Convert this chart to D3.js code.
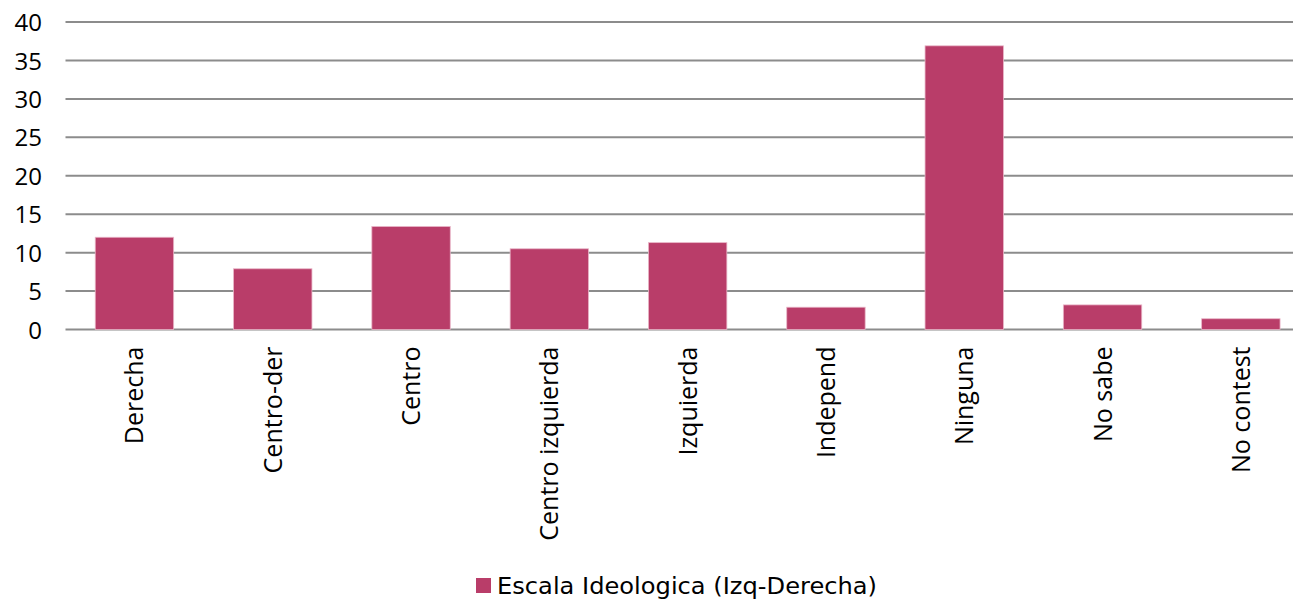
<!DOCTYPE html>
<html><head><meta charset="utf-8">
<script src="https://cdn.jsdelivr.net/npm/d3@7"></script>
<style>body{margin:0;background:#fff;overflow:hidden}svg{display:block}</style>
</head><body>
<svg id="c" width="1293" height="599"></svg>
<script>
const categories = ["Derecha","Centro-der","Centro","Centro izquierda","Izquierda","Independ","Ninguna","No sabe","No contest"];
const values = [12.0, 7.9, 13.4, 10.5, 11.3, 2.9, 36.9, 3.2, 1.4];
const yTicks = [0,5,10,15,20,25,30,35,40];
const seriesName = "Escala Ideologica (Izq-Derecha)";

const svg = d3.select("#c");
const x = d3.scaleBand().domain(categories).range([65.3, 1310]).paddingInner(0.433).paddingOuter(0.2165);
const y = d3.scaleLinear().domain([0,40]).range([329.5, 22]);
const font = "'Open Sans', sans-serif";

// gridlines
svg.append("g").selectAll("line").data(yTicks).join("line")
  .attr("x1", 65.5).attr("x2", 1310)
  .attr("y1", d => y(d)).attr("y2", d => y(d))
  .attr("stroke", "#8c8c8c").attr("stroke-width", 2);

// y axis labels
const yAxis = d3.axisLeft(y).tickValues(yTicks).tickSize(0).tickPadding(0);
const ya = svg.append("g").attr("transform","translate(42,0)").call(yAxis);
ya.select(".domain").remove();
ya.selectAll("text").attr("font-family", font).attr("font-size", 24).attr("fill","#000").attr("dy","0.36em");

// bars
svg.append("g").selectAll("rect").data(categories).join("rect")
  .attr("x", d => x(d)).attr("width", x.bandwidth())
  .attr("y", (d,i) => y(values[i])).attr("height", (d,i) => y(0) - y(values[i]))
  .attr("fill", "#b93d69").attr("stroke","#e9b6c8").attr("stroke-width",0.8);

// x labels
const xAxis = d3.axisBottom(x).tickSize(0).tickPadding(0);
const xa = svg.append("g").attr("transform","translate(0,329.5)").call(xAxis);
xa.select(".domain").remove();
xa.selectAll("text")
  .attr("font-family", font).attr("font-size", 25).attr("fill","#000")
  .attr("text-anchor","end").attr("transform","rotate(-90)")
  .attr("x", -17).attr("y", 0).attr("dy","0.36em");

// legend
const lg = svg.append("g");
lg.append("rect").attr("x",476).attr("y",578).attr("width",15).attr("height",15).attr("fill","#b93d69");
lg.append("text").attr("x",497).attr("y",594).text(seriesName)
  .attr("font-family", "'DejaVu Sans', sans-serif").attr("font-size", 23).attr("fill","#000")
  .attr("textLength", 380).attr("lengthAdjust","spacingAndGlyphs");
</script>
</body></html>
